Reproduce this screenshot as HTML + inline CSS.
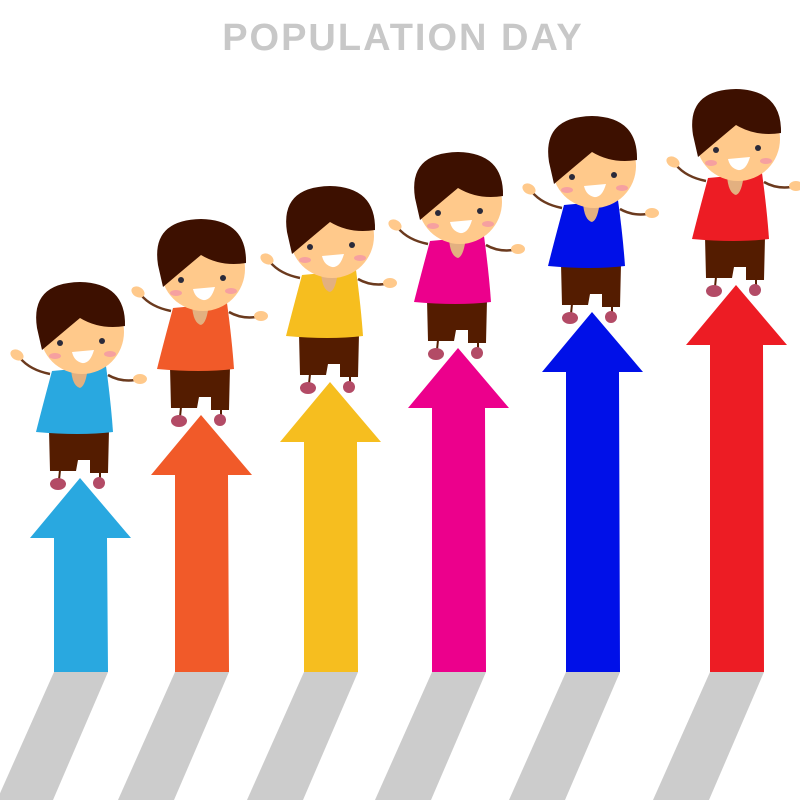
<!DOCTYPE html>
<html><head><meta charset="utf-8"><style>
html,body{margin:0;padding:0;background:#fff}
svg{display:block}
</style></head><body>
<svg id="chart" width="800" height="800" viewBox="0 0 800 800">
<text x="403" y="50" text-anchor="middle" font-family="'Liberation Sans', sans-serif" font-weight="bold" font-size="38" fill="#c8c8c8" letter-spacing="2">POPULATION DAY</text>
<g id="shadows"></g><g id="arrows"></g><g id="kids"></g>
</svg>
<script>
const categories = ['g1','g2','g3','g4','g5','g6'];
const values = [194, 257, 290, 324, 360, 387];
const colors = ['#29a8e0','#f15a29','#f6be1f','#ec008c','#0010e8','#ed1c24'];
const xCenters = [80, 201, 330, 458, 592, 736];
const base = 672;
const ns = 'http://www.w3.org/2000/svg';
function yScale(v){ return base - v; }
function mk(tag, attrs, parent){ const e=document.createElementNS(ns,tag); for(const k in attrs) e.setAttribute(k,attrs[k]); parent.appendChild(e); return e; }
const sh=document.getElementById('shadows'), ar=document.getElementById('arrows'), kd=document.getElementById('kids');
categories.forEach((c,i)=>{
  const x=xCenters[i], tip=yScale(values[i]);
  const s=mk('polygon',{points:`${x-26},${base} ${x+28},${base} ${x-27},800 ${x-83},800`,fill:'#cccccc'},sh);
  
  
  const a=mk('polygon',{points:`${x},${tip} ${x+51},${tip+60} ${x+27},${tip+60} ${x+28},${base} ${x-26},${base} ${x-26},${tip+60} ${x-50},${tip+60}`,fill:colors[i]},ar);
  
  
  const g=mk('g',{transform:`translate(${x},${tip})`},kd);
  
  
  mk('path',{d:'M-30,-104 Q-50,-108 -60,-120',stroke:'#6b3a1e','stroke-width':2.5,fill:'none'},g);
  mk('path',{d:'M28,-103 Q40,-96 55,-98',stroke:'#6b3a1e','stroke-width':2.5,fill:'none'},g);
  mk('ellipse',{cx:-63,cy:-123,rx:7,ry:5,fill:'#ffc98b',transform:'rotate(30 -63 -123)'},g);
  mk('ellipse',{cx:60,cy:-99,rx:7,ry:5,fill:'#ffc98b'},g);
  mk('path',{d:'M-31,-48 L29,-48 L28,-5 L10,-5 L10,-18 L-2,-18 L-4,-7 L-30,-7 Z',fill:'#541c00'},g);
  mk('line',{x1:-20,y1:-8,x2:-21,y2:2,stroke:'#541c00','stroke-width':2},g);
  mk('line',{x1:20,y1:-6,x2:20,y2:2,stroke:'#541c00','stroke-width':2},g);
  mk('ellipse',{cx:-22,cy:6,rx:8,ry:6,fill:'#b34b66'},g);
  mk('ellipse',{cx:19,cy:5,rx:6,ry:6,fill:'#b34b66'},g);
  mk('path',{d:'M-28,-107 L26,-112 Q31,-75 33,-46 Q0,-42 -44,-46 Q-38,-70 -28,-107 Z',fill:colors[i]},g);
  mk('path',{d:'M-9,-110 L8,-112 Q6,-92 0,-90 Q-8,-92 -9,-110 Z',fill:'#e3b080'},g);
  mk('circle',{cx:2,cy:-146,r:42,fill:'#ffc98b'},g);
  mk('path',{d:'M-43,-150 Q-50,-195 0,-196 Q46,-195 45,-152 Q20,-148 0,-160 Q-12,-150 -38,-128 Z',fill:'#3d1000'},g);
  mk('circle',{cx:-20,cy:-135,r:3,fill:'#2a2a3a'},g);
  mk('circle',{cx:22,cy:-137,r:3,fill:'#2a2a3a'},g);
  mk('ellipse',{cx:-25,cy:-122,rx:6,ry:3,fill:'#f6a0a0'},g);
  mk('ellipse',{cx:30,cy:-124,rx:6,ry:3,fill:'#f6a0a0'},g);
  mk('path',{d:'M-8,-126 L14,-128 Q10,-114 2,-115 Q-6,-117 -8,-126 Z',fill:'#ffffff'},g);
});
</script>
</body></html>
